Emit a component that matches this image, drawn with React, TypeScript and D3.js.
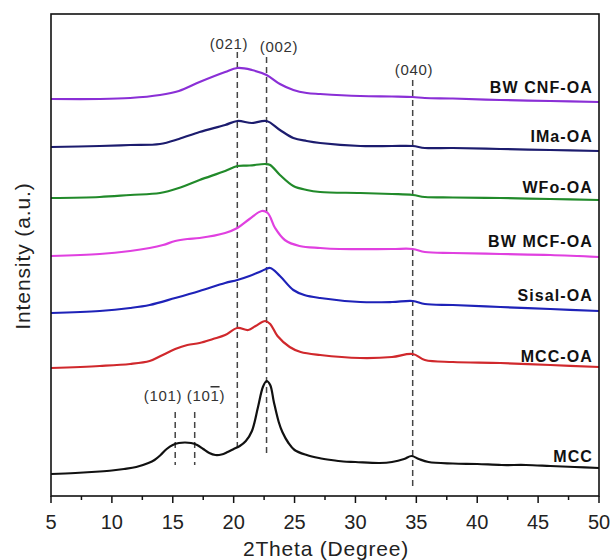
import React from "react";
import * as d3 from "d3";

// 2Theta (degree) / intensity (a.u., offset stacked)
const mccDeg = [5, 7, 9, 10, 11, 12, 13, 13.5, 14, 14.5, 15, 15.5, 16, 16.5, 17, 17.5, 18, 18.5, 19, 19.5, 20, 20.5, 21, 21.5, 22, 22.4, 22.7, 23, 23.3, 23.7, 24, 24.5, 25, 26, 27, 28, 29, 30, 32, 33, 34, 34.6, 35.2, 36, 38, 40, 42, 44, 46, 48, 50];
const mccVal = [22, 23, 24.5, 25.5, 27, 29, 33, 36, 41, 47, 51, 53, 53.5, 53, 51, 47, 43, 41, 41.5, 44, 47, 50, 55, 65, 89, 109, 115, 111, 94, 74, 64, 53, 46, 41, 38, 36, 34.5, 34, 33, 34, 37, 40, 37, 34, 32.5, 32, 31, 31, 30, 29, 28];

const mccOaDeg = [5, 9, 11.5, 13.1, 14, 15.2, 16.2, 17.2, 18.3, 19.3, 20.3, 21.2, 21.8, 22.6, 23.0, 23.6, 24.6, 25.5, 27.1, 30.4, 33, 34.7, 35.7, 38, 41.9, 46, 50];
const mccOaVal = [128, 130, 132, 135, 140, 147, 151, 153, 157, 161, 168, 166, 170, 175, 172, 160, 149, 144, 141, 138, 139, 142, 136, 134, 133, 131, 129];

const sisalDeg = [5, 9, 11.5, 13.1, 15.2, 17.2, 19.3, 20.3, 21.3, 22.3, 23.0, 23.8, 24.9, 25.8, 27.1, 30.4, 33, 34.7, 35.7, 38, 41.9, 46, 50];
const sisalVal = [183, 185, 188, 191, 198, 205, 213, 216, 220, 225, 228, 220, 206, 201, 198, 194, 194, 195, 192, 191, 189, 187, 185];

const mcfDeg = [5, 9, 11.5, 13.1, 14.2, 15.2, 16.2, 17.2, 19.3, 20.3, 21.3, 22.3, 22.8, 23.4, 24.2, 25.4, 27.1, 28.7, 33, 34.7, 35.7, 38, 41.9, 46, 50];
const mcfVal = [240, 242, 245, 248, 251, 255, 257, 258, 263, 268, 277, 285, 283, 268, 256, 250, 248, 247, 247, 247, 244, 243, 242, 241, 239];

const wfoDeg = [5, 9, 11.5, 13.95, 15.5, 17.2, 19.3, 20.3, 21.3, 22.6, 23.0, 23.8, 24.9, 26, 27.1, 30.4, 33, 34.7, 35.7, 38, 41.9, 46, 50];
const wfoVal = [298, 299, 301, 303, 308, 316, 325, 330, 330.5, 332, 331, 321, 310, 306, 304, 303, 302, 301, 299, 298.5, 298, 297, 296];

const imaDeg = [5, 9, 11.5, 13.95, 15.5, 17.2, 19.3, 20.3, 21.5, 22.7, 23.8, 24.9, 26, 27.1, 30.4, 33, 34.7, 35.7, 38, 41.9, 46, 50];
const imaVal = [349, 350, 351, 352, 357, 364, 371, 375, 373, 375, 366, 358, 355, 353, 350, 350, 350, 348, 348, 347, 346, 345];

const cnfDeg = [5, 9, 11.5, 13.95, 15.5, 17.2, 19.3, 20.3, 21.5, 22.7, 23.8, 24.9, 26, 27.1, 30.4, 33, 34.7, 35.7, 38, 41.9, 46, 50];
const cnfVal = [397, 397, 398, 401, 405, 414, 424, 428, 426, 421, 412, 406, 403, 402, 400, 399.5, 399, 398, 397.5, 396, 395, 394];

const seriesNames = ["MCC", "MCC-OA", "Sisal-OA", "BW MCF-OA", "WFo-OA", "IMa-OA", "BW CNF-OA"];
const seriesDeg = [mccDeg, mccOaDeg, sisalDeg, mcfDeg, wfoDeg, imaDeg, cnfDeg];
const seriesVal = [mccVal, mccOaVal, sisalVal, mcfVal, wfoVal, imaVal, cnfVal];
const seriesColors = ["#111111", "#d0282c", "#1e22b8", "#e040e0", "#218a2a", "#1c1c6e", "#8a2fd6"];
const labelValues = [34, 134, 195, 249, 303, 354, 403];

const xTicks = [5, 10, 15, 20, 25, 30, 35, 40, 45, 50];
const xMinorTicks = [7.5, 12.5, 17.5, 22.5, 27.5, 32.5, 37.5, 42.5, 47.5];

// reference peak lines: position, top value, bottom value
const peakPos = [15.2, 16.8, 20.3, 22.7, 34.7];
const peakTop = [84, 84, 444, 439, 416];
const peakBottom = [31, 31, 44, 39, 10];

const W = 611;
const H = 560;
const M = { left: 51, right: 599, top: 14, bottom: 496 };

export default function App() {
  const x = d3.scaleLinear().domain([5, 50]).range([M.left, M.right]);
  const y = d3.scaleLinear().domain([0, 482]).range([M.bottom, M.top]);
  const line = d3
    .line<[number, number]>()
    .x((d) => x(d[0]))
    .y((d) => y(d[1]))
    .curve(d3.curveCatmullRom.alpha(0.5));

  const font = "Arial, 'Liberation Sans', sans-serif";
  const peakLabelProps = {
    textAnchor: "middle" as const,
    fontFamily: font,
    fontSize: 15,
    letterSpacing: 0.7,
    fill: "#333",
  };

  return (
    <svg width={W} height={H} style={{ position: "absolute", left: 0, top: 0, background: "#fff" }}>
      <rect x={0} y={0} width={W} height={H} fill="#fff" />
      {/* peak dashed lines */}
      {peakPos.map((p, i) => (
        <line
          key={"pl" + i}
          x1={x(p)}
          x2={x(p)}
          y1={y(peakTop[i])}
          y2={y(peakBottom[i])}
          stroke="#444"
          strokeWidth={1.5}
          strokeDasharray="6,4"
        />
      ))}
      {/* series */}
      {seriesNames.map((n, i) => (
        <path
          key={n}
          d={line(seriesDeg[i].map((d, j) => [d, seriesVal[i][j]] as [number, number])) || ""}
          fill="none"
          stroke={seriesColors[i]}
          strokeWidth={2.2}
          strokeLinejoin="round"
        />
      ))}
      {/* series labels */}
      {seriesNames.map((n, i) => (
        <text
          key={"lb" + n}
          x={593}
          y={y(labelValues[i])}
          textAnchor="end"
          fontFamily={font}
          fontWeight="bold"
          fontSize={16}
          letterSpacing={1.1}
          fill="#111"
        >
          {n}
        </text>
      ))}
      {/* peak labels */}
      <text x={163} y={y(95)} {...peakLabelProps}>(101)</text>
      <text x={206} y={y(95)} {...peakLabelProps}>
        (10<tspan textDecoration="overline">1</tspan>)
      </text>
      <text x={229} y={y(447)} {...peakLabelProps}>(021)</text>
      <text x={279} y={y(444)} {...peakLabelProps}>(002)</text>
      <text x={414} y={y(421)} {...peakLabelProps}>(040)</text>
      {/* frame */}
      <rect
        x={M.left}
        y={M.top}
        width={M.right - M.left}
        height={M.bottom - M.top}
        fill="none"
        stroke="#111"
        strokeWidth={1.6}
      />
      {/* x ticks */}
      {xTicks.map((t) => (
        <g key={"t" + t}>
          <line x1={x(t)} x2={x(t)} y1={M.bottom} y2={M.bottom + 7} stroke="#111" strokeWidth={1.5} />
          <text x={x(t)} y={529} textAnchor="middle" fontFamily={font} fontSize={20} fill="#222">
            {t}
          </text>
        </g>
      ))}
      {xMinorTicks.map((t) => (
        <line key={"m" + t} x1={x(t)} x2={x(t)} y1={M.bottom} y2={M.bottom + 4} stroke="#111" strokeWidth={1.5} />
      ))}
      <text x={326} y={556} textAnchor="middle" fontFamily={font} fontSize={21} letterSpacing={0.8} fill="#222">
        2Theta (Degree)
      </text>
      <text
        transform={`translate(30,256) rotate(-90)`}
        textAnchor="middle"
        fontFamily={font}
        fontSize={21}
        letterSpacing={0.9}
        fill="#222"
      >
        Intensity (a.u.)
      </text>
    </svg>
  );
}
